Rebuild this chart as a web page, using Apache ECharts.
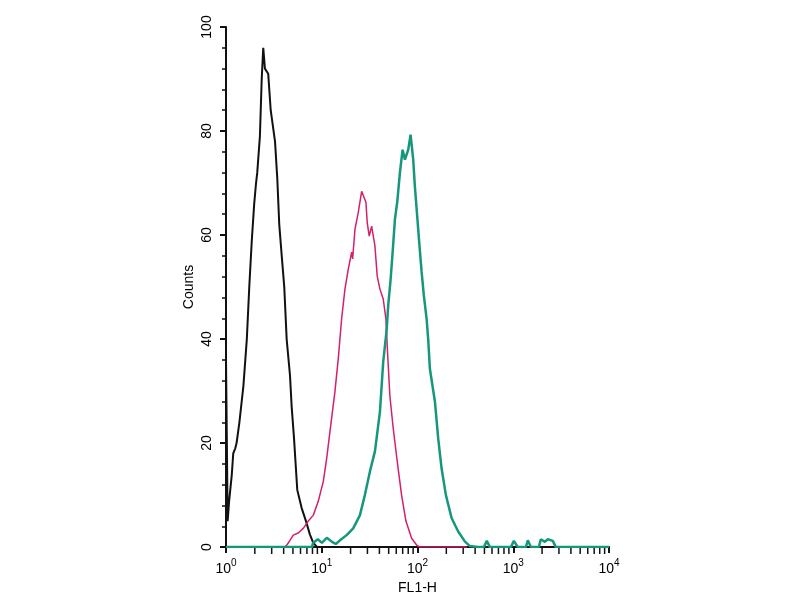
<!DOCTYPE html>
<html>
<head>
<meta charset="utf-8">
<title>FL1-H histogram</title>
<script src="https://cdn.jsdelivr.net/npm/echarts@6/dist/echarts.min.js"></script>
<style>
  html, body { margin: 0; padding: 0; background: #fff; }
  #chart { width: 800px; height: 600px; }
</style>
</head>
<body>
<div id="chart"></div>
<script>
// FL1-H value, counts
var controlCurve = [
    [1.0, 0], [1.0, 36], [1.02, 21], [1.04, 5], [1.08, 9], [1.15, 14], [1.19, 18],
    [1.25, 19], [1.29, 20], [1.38, 24], [1.52, 31], [1.65, 40], [1.75, 50],
    [1.86, 59], [1.97, 66], [2.06, 70], [2.12, 72], [2.26, 79], [2.36, 90],
    [2.45, 96], [2.55, 92], [2.65, 92], [2.76, 91], [2.93, 84], [3.25, 78],
    [3.43, 71], [3.6, 62], [3.82, 56], [4.06, 50], [4.3, 40], [4.66, 33],
    [4.85, 27], [5.13, 21], [5.55, 11], [6.17, 7.5], [6.84, 5], [7.53, 2.4],
    [8.15, 0.8], [9.0, 0], [12, 0]
];
var pinkCurve = [
    [4.13, 0], [4.36, 0.5], [4.66, 1.3], [5.04, 2.3], [5.68, 2.7], [6.41, 3.6],
    [7.23, 5], [8.15, 6.1], [9.19, 8.8], [10.37, 12.6], [11.25, 17], [12.18, 22.2],
    [13.73, 29.9], [14.87, 36.2], [16.13, 43.9], [17.47, 49.6], [18.91, 53.4],
    [20.52, 56.7], [21.02, 55.4], [22.22, 61.1], [24.04, 64.3], [26.1, 68.4],
    [28.93, 66.3], [29.85, 62.4], [31.31, 59.8], [33.2, 61.7], [35.93, 57.9],
    [37.96, 52.1], [40.51, 49.6], [43.85, 47.7], [46.79, 43.9], [49.1, 36],
    [51.5, 29], [55.8, 22.8], [61.4, 16.5], [68.2, 10], [75.7, 5], [86.8, 1.7],
    [97.9, 0.4], [106, 0], [328, 0]
];
var tealCurve = [
    [1, 0], [7.9, 0], [8.1, 0.8], [9.1, 1.5], [10.04, 0.8], [11.3, 1.8],
    [12.8, 1.0], [14.0, 0.6], [15.5, 1.3], [18.2, 2.3], [21.3, 3.6], [25.0, 6.1],
    [28.2, 10], [31.9, 14.6], [35.93, 18.4], [40.51, 26], [43.85, 35.6],
    [47.6, 41.7], [49.4, 46.4], [52.4, 51.5], [55.0, 56.7], [58.1, 63],
    [61.4, 66.3], [65.5, 72], [69.9, 76.4], [73.9, 74.5], [80.0, 76.4],
    [84.7, 79.3], [90.2, 74.5], [93.9, 69.3], [99.3, 63.6], [104.2, 58.6],
    [110.4, 52.9], [116.6, 48.3], [124.5, 43.9], [129.3, 40], [134.7, 34.3],
    [152, 28], [164.5, 20.9], [178.5, 15.1], [198, 10], [227, 5.6], [266, 3],
    [312, 1.1], [352, 0.2], [427, 0], [493, 0], [530, 1.2], [570, 0], [944, 0],
    [1015, 1.2], [1117, 0], [1354, 0], [1420, 1.3], [1527, 0], [1850, 0],
    [1941, 1.5], [2138, 1], [2297, 1.5], [2590, 1.2], [2784, 0], [10000, 0]
];
var xDecades = [1, 10, 100, 1000, 10000];
var yMax = 100;
var yStep = 20;

// minor ticks 2..9 inside each decade (drawn in a thin strip under the axis)
var minorTickValues = [];
xDecades.slice(0, -1).forEach(function (d) {
    for (var k = 2; k < 10; k++) {
        minorTickValues.push([d * k, 0.5]);
    }
});

var font = '"Liberation Sans", Arial, sans-serif';
var axisColor = '#111';

var myChart = echarts.init(document.getElementById('chart'));
myChart.setOption({
    animation: false,
    backgroundColor: '#fff',
    grid: [
        {left: 226, right: 191, top: 27, bottom: 51},
        // strip just below the x axis, holds the minor ticks
        {left: 226, right: 191, top: 548, height: 6}
    ],
    xAxis: [
        {
            type: 'log',
            logBase: 10,
            min: xDecades[0],
            max: xDecades[xDecades.length - 1],
            name: 'FL1-H',
            nameLocation: 'middle',
            nameGap: 32,
            nameTextStyle: {fontFamily: font, fontSize: 14, color: '#000'},
            axisLine: {lineStyle: {color: axisColor, width: 2}},
            axisTick: {length: 6, lineStyle: {color: axisColor, width: 2}},
            splitLine: {show: false},
            axisLabel: {
                margin: 11,
                formatter: function (v) {
                    return '{b|10}{s|' + Math.round(Math.log10(v)) + '}';
                },
                rich: {
                    b: {fontFamily: font, fontSize: 14, color: '#000', lineHeight: 18, verticalAlign: 'bottom'},
                    s: {fontFamily: font, fontSize: 10, color: '#000', lineHeight: 18, verticalAlign: 'top'}
                }
            }
        },
        {
            gridIndex: 1,
            type: 'log',
            logBase: 10,
            min: xDecades[0],
            max: xDecades[xDecades.length - 1],
            show: false
        }
    ],
    yAxis: [
        {
            type: 'value',
            min: 0,
            max: yMax,
            interval: yStep,
            name: 'Counts',
            nameLocation: 'middle',
            nameRotate: 90,
            nameGap: 30,
            nameTextStyle: {fontFamily: font, fontSize: 14, color: '#000'},
            axisLine: {show: true, lineStyle: {color: axisColor, width: 2}},
            axisTick: {show: true, length: 6, lineStyle: {color: axisColor, width: 2}},
            minorTick: {show: true, splitNumber: 5, length: 4, lineStyle: {color: axisColor, width: 1.5}},
            splitLine: {show: false},
            axisLabel: {
                rotate: 90,
                margin: 12,
                fontFamily: font,
                fontSize: 14,
                color: '#000'
            }
        },
        {
            gridIndex: 1,
            type: 'value',
            min: 0,
            max: 1,
            show: false
        }
    ],
    series: [
        {
            type: 'scatter',
            xAxisIndex: 1,
            yAxisIndex: 1,
            silent: true,
            symbol: 'rect',
            symbolSize: [1.5, 6],
            itemStyle: {color: axisColor, opacity: 1},
            data: minorTickValues
        },
        {
            name: 'control',
            type: 'line',
            showSymbol: false,
            data: controlCurve,
            lineStyle: {color: '#111', width: 2},
            z: 3
        },
        {
            name: 'pink',
            type: 'line',
            showSymbol: false,
            data: pinkCurve,
            lineStyle: {color: '#d61f6a', width: 1.5},
            z: 4
        },
        {
            name: 'teal',
            type: 'line',
            showSymbol: false,
            data: tealCurve,
            lineStyle: {color: '#16977c', width: 2.5},
            z: 5
        }
    ]
});
</script>
</body>
</html>
